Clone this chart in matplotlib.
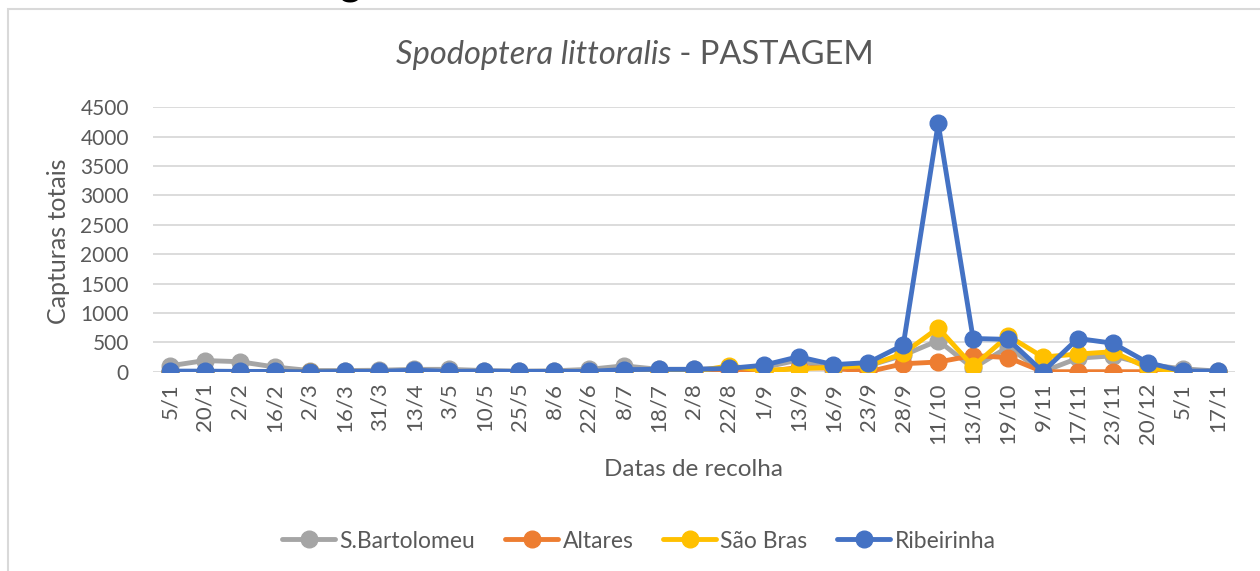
import matplotlib
matplotlib.use("Agg")
import matplotlib.pyplot as plt
from matplotlib.patches import Rectangle

# collection dates (category axis)
dates = ["5/1", "20/1", "2/2", "16/2", "2/3", "16/3", "31/3", "13/4", "3/5", "10/5",
         "25/5", "8/6", "22/6", "8/7", "18/7", "2/8", "22/8", "1/9", "13/9", "16/9",
         "23/9", "28/9", "11/10", "13/10", "19/10", "9/11", "17/11", "23/11", "20/12",
         "5/1", "17/1"]

s_bartolomeu = [100, 190, 170, 80, 20, 20, 25, 40, 40, 20, 10, 15, 40, 100, 40, 40,
                60, 70, 200, 30, 100, 280, 530, 60, 420, 0, 230, 270, 120, 50, 10]
altares = [0, 0, 0, 0, 0, 0, 0, 0, 0, 0, 0, 0, 0, 0, 0, 0,
           30, 0, 70, 60, 0, 135, 165, 275, 240, 0, 0, 0, 0, 0, 0]
sao_bras = [0, 0, 0, 0, 0, 0, 0, 0, 0, 0, 0, 0, 0, 0, 0, 0,
            100, 20, 50, 75, 100, 310, 745, 90, 610, 250, 300, 340, 65, 0, 0]
ribeirinha = [10, 10, 5, 5, 0, 5, 5, 25, 5, 10, 5, 5, 5, 35, 40, 40,
              55, 110, 255, 120, 155, 455, 4225, 565, 550, 0, 565, 485, 155, 10, 10]

series = [("S.Bartolomeu", s_bartolomeu, "#A5A5A5"),
          ("Altares", altares, "#ED7D31"),
          ("São Bras", sao_bras, "#FFC000"),
          ("Ribeirinha", ribeirinha, "#4472C4")]

plt.rcParams["font.family"] = ["Lato", "DejaVu Sans"]
txt = "#595959"
W, H = 1260, 571

fig = plt.figure(figsize=(W / 100, H / 100), dpi=100)
ax = fig.add_axes([152.5 / W, (H - 371.7) / H, (1235 - 152.5) / W, (371.7 - 107.3) / H])

x = list(range(len(dates)))
for name, vals, col in series:
    ax.plot(x, vals, color=col, lw=3.5, marker="o", markersize=12,
            solid_capstyle="round", label=name)

ax.set_xlim(-0.5, len(dates) - 0.5)
ax.set_ylim(0, 4500)
ax.set_yticks(range(0, 4501, 500))
ax.set_xticks(x)
ax.set_xticklabels(dates, rotation=90)
ax.tick_params(axis="both", length=0, labelsize=15, colors=txt)
ax.tick_params(axis="x", labelsize=16)
ax.tick_params(axis="y", pad=17)
ax.tick_params(axis="x", pad=8)
ax.grid(axis="y", color="#D9D9D9", lw=1.3)
ax.set_axisbelow(True)
for sp in ax.spines.values():
    sp.set_visible(False)

fig.text(58 / W, (H - 241) / H, "Capturas totais", rotation=90, ha="center",
         va="center", fontsize=18, color=txt)
fig.text(693 / W, (H - 469) / H, "Datas de recolha", ha="center", va="center",
         fontsize=17.5, color=txt)

# title: italic species name + plain suffix, centred together
t1 = fig.text(0, (H - 64) / H, "Spodoptera littoralis", style="italic",
              fontsize=23.5, color=txt, va="baseline")
t2 = fig.text(0, (H - 64) / H, " - PASTAGEM", fontsize=23.5, color=txt, va="baseline")
fig.canvas.draw()
w1 = t1.get_window_extent().width
w2 = t2.get_window_extent().width
x0 = 635 - (w1 + w2) / 2
t1.set_x(x0 / W)
t2.set_x((x0 + w1) / W)

# chart frame (cropped at right and bottom)
fig.patches.append(Rectangle((8 / W, -0.1), 1.2, (H - 9) / H + 0.1,
                             transform=fig.transFigure, fill=False,
                             edgecolor="#D9D9D9", lw=1.5))
# descender of a heading cut off above the picture
fig.text(351 / W, (H + 5) / H, "g", fontsize=29, fontweight="bold",
         color="black", ha="center", va="baseline")

fig.legend(loc="center", bbox_to_anchor=(639 / W, 30 / H), ncol=4, frameon=False,
           fontsize=16.5, labelcolor=txt, handlelength=2.3, handletextpad=0.2,
           columnspacing=1.3)

fig.savefig("out.png", dpi=100)
